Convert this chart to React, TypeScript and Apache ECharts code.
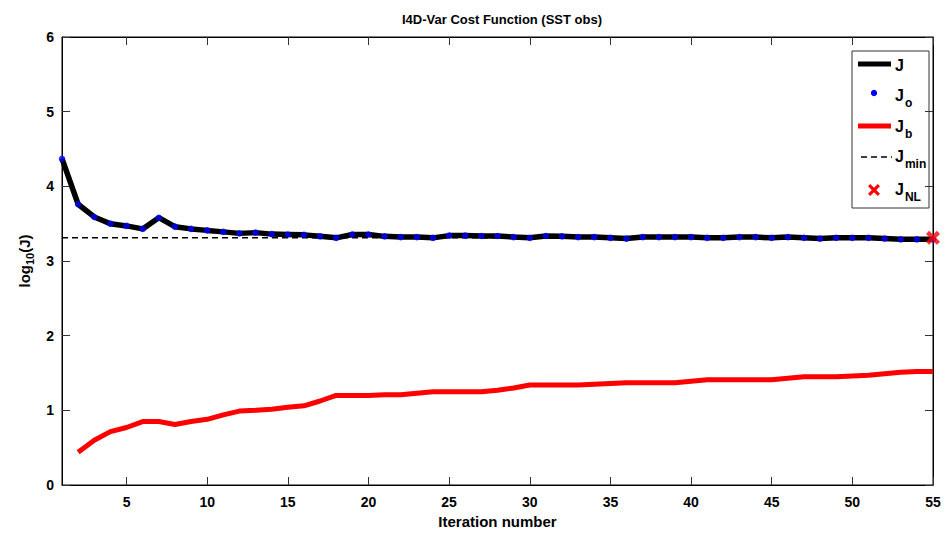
import React, { useEffect, useRef } from "react";
import * as echarts from "echarts";

const iterations: number[] = Array.from({ length: 55 }, (_, i) => i + 1);
const jValues: number[] = [
  4.37, 3.76, 3.59, 3.5, 3.47, 3.43, 3.58, 3.46, 3.43, 3.41,
  3.39, 3.37, 3.38, 3.36, 3.355, 3.35, 3.33, 3.31, 3.355, 3.355,
  3.33, 3.32, 3.32, 3.31, 3.34, 3.34, 3.335, 3.335, 3.32, 3.31,
  3.335, 3.33, 3.32, 3.32, 3.31, 3.3, 3.32, 3.32, 3.32, 3.32,
  3.31, 3.31, 3.32, 3.32, 3.31, 3.32, 3.31, 3.3, 3.31, 3.31,
  3.31, 3.3, 3.29, 3.29, 3.29,
];
const joValues: number[] = jValues.slice();
const jbIterations: number[] = iterations.slice(1);
const jbValues: number[] = [
  0.44, 0.6, 0.715, 0.77, 0.85, 0.85, 0.81, 0.85, 0.88,
  0.94, 0.99, 1.0, 1.015, 1.04, 1.06, 1.125, 1.2, 1.2, 1.2,
  1.21, 1.21, 1.23, 1.25, 1.25, 1.25, 1.25, 1.27, 1.3, 1.34,
  1.34, 1.34, 1.34, 1.35, 1.36, 1.37, 1.37, 1.37, 1.37, 1.39,
  1.41, 1.41, 1.41, 1.41, 1.41, 1.43, 1.45, 1.45, 1.45, 1.46,
  1.47, 1.49, 1.51, 1.52, 1.52,
];
const jMin = 3.31;
const jNL: [number, number] = [55, 3.31];
const xTicks: number[] = [5, 10, 15, 20, 25, 30, 35, 40, 45, 50, 55];

const FONT = "Liberation Sans";
const X_PATH =
  "path://M2.2,0 L5,2.8 L7.8,0 L10,2.2 L7.2,5 L10,7.8 L7.8,10 L5,7.2 L2.2,10 L0,7.8 L2.8,5 L0,2.2 Z";

export default function App() {
  const ref = useRef<HTMLDivElement>(null);
  useEffect(() => {
    if (!ref.current) return;
    const chart = echarts.init(ref.current, null, { renderer: "svg" });
    const labelStyle = {
      fontFamily: FONT,
      fontWeight: "bold" as const,
      fontSize: 14,
      color: "#000",
    };
    const subRich = {
      j: { fontFamily: FONT, fontWeight: "bold" as const, fontSize: 16, color: "#000" },
      s: {
        fontFamily: FONT,
        fontWeight: "bold" as const,
        fontSize: 12,
        color: "#000",
        padding: [15, 0, 0, 1],
      },
    };
    const legendX = 852;
    const legendY = 51;
    const textX = 895;
    const item = (y: number, sub: string) => ({
      type: "text",
      x: textX,
      y: y - 9,
      style: {
        text: sub ? `{j|J}{s|${sub}}` : "{j|J}",
        rich: subRich,
      },
    });
    const cross = (cx: number, cy: number, h: number, d: number) => [
      [cx - h + d, cy - h], [cx, cy - d], [cx + h - d, cy - h], [cx + h, cy - h + d],
      [cx + d, cy], [cx + h, cy + h - d], [cx + h - d, cy + h], [cx, cy + d],
      [cx - h + d, cy + h], [cx - h, cy + h - d], [cx - d, cy], [cx - h, cy - h + d],
    ];
    chart.setOption({
      animation: false,
      backgroundColor: "#fff",
      title: {
        text: "I4D-Var Cost Function (SST obs)",
        left: 497,
        textAlign: "center",
        top: 8,
        textStyle: { fontFamily: FONT, fontWeight: "bold", fontSize: 13, color: "#000" },
      },
      grid: {
        left: 62,
        right: 17,
        top: 37,
        bottom: 44,
        show: true,
        borderColor: "#000",
        borderWidth: 1,
        backgroundColor: "#fff",
      },
      xAxis: [
        {
          type: "value",
          min: 1,
          max: 55,
          name: "Iteration number",
          nameLocation: "middle",
          nameGap: 29,
          nameTextStyle: { fontFamily: FONT, fontWeight: "bold", fontSize: 15, color: "#000" },
          axisLine: { show: true, onZero: false, lineStyle: { color: "#000" } },
          axisTick: { show: true, inside: true, length: 8, customValues: xTicks, lineStyle: { color: "#333" } },
          axisLabel: { ...labelStyle, margin: 10, customValues: xTicks },
          splitLine: { show: false },
        },
        {
          type: "value",
          min: 1,
          max: 55,
          position: "top",
          axisLine: { show: true, onZero: false, lineStyle: { color: "#000" } },
          axisTick: { show: true, inside: true, length: 8, customValues: xTicks, lineStyle: { color: "#333" } },
          axisLabel: { show: false },
          splitLine: { show: false },
        },
      ],
      yAxis: [
        {
          type: "value",
          min: 0,
          max: 6,
          interval: 1,
          name: "log{s|10}(J)",
          nameLocation: "middle",
          nameGap: 26,
          nameRotate: 90,
          nameTextStyle: {
            fontFamily: FONT,
            fontWeight: "bold",
            fontSize: 15,
            color: "#000",
            rich: {
              s: { fontFamily: FONT, fontWeight: "bold", fontSize: 11, color: "#000", padding: [10, 0, 0, 0] },
            },
          },
          axisLine: { show: true, onZero: false, lineStyle: { color: "#000" } },
          axisTick: { show: true, inside: true, length: 8, lineStyle: { color: "#333" } },
          axisLabel: { ...labelStyle, margin: 8 },
          splitLine: { show: false },
        },
        {
          type: "value",
          min: 0,
          max: 6,
          interval: 1,
          position: "right",
          axisLine: { show: true, onZero: false, lineStyle: { color: "#000" } },
          axisTick: { show: true, inside: true, length: 8, lineStyle: { color: "#333" } },
          axisLabel: { show: false },
          splitLine: { show: false },
        },
      ],
      series: [
        {
          name: "J",
          type: "line",
          data: iterations.map((x, i) => [x, jValues[i]]),
          showSymbol: false,
          symbol: "none",
          lineStyle: { color: "#000", width: 5.5 },
          z: 3,
        },
        {
          name: "Jo",
          type: "scatter",
          data: iterations.map((x, i) => [x, joValues[i]]),
          symbol: "circle",
          symbolSize: 6.5,
          itemStyle: { color: "#0000ff" },
          z: 4,
        },
        {
          name: "Jb",
          type: "line",
          data: jbIterations.map((x, i) => [x, jbValues[i]]),
          showSymbol: false,
          symbol: "none",
          lineStyle: { color: "#ff0000", width: 5 },
          z: 3,
        },
        {
          name: "Jmin",
          type: "line",
          data: [
            [iterations[0], jMin],
            [iterations[iterations.length - 1], jMin],
          ],
          showSymbol: false,
          symbol: "none",
          lineStyle: { color: "#000", width: 1.5, type: [6, 4] },
          z: 2,
        },
        {
          name: "JNL",
          type: "scatter",
          data: [jNL],
          symbol: X_PATH,
          symbolSize: 14,
          itemStyle: { color: "#ff0000" },
          z: 5,
          clip: false,
        },
      ],
      graphic: [
        {
          type: "group",
          z: 100,
          children: [
            {
              type: "rect",
              shape: { x: legendX, y: legendY, width: 77, height: 157 },
              style: { fill: "#fff", stroke: "#333", lineWidth: 1 },
            },
            {
              type: "line",
              shape: { x1: 858, y1: 64, x2: 891, y2: 64 },
              style: { stroke: "#000", lineWidth: 5 },
            },
            item(66, ""),
            {
              type: "circle",
              shape: { cx: 874, cy: 93, r: 3.2 },
              style: { fill: "#0000ff" },
            },
            item(91, "o"),
            {
              type: "line",
              shape: { x1: 858, y1: 126, x2: 891, y2: 126 },
              style: { stroke: "#ff0000", lineWidth: 5 },
            },
            item(122, "b"),
            {
              type: "line",
              shape: { x1: 861, y1: 157, x2: 892, y2: 157 },
              style: { stroke: "#000", lineWidth: 1.5, lineDash: [6, 4] },
            },
            item(152, "min"),
            {
              type: "polygon",
              shape: { points: cross(874, 190, 6, 2.2) },
              style: { fill: "#ff0000" },
            },
            item(185, "NL"),
          ],
        },
      ],
    });
    return () => chart.dispose();
  }, []);
  return (
    <div
      ref={ref}
      style={{ position: "fixed", left: 0, top: 0, width: 950, height: 534 }}
    />
  );
}
